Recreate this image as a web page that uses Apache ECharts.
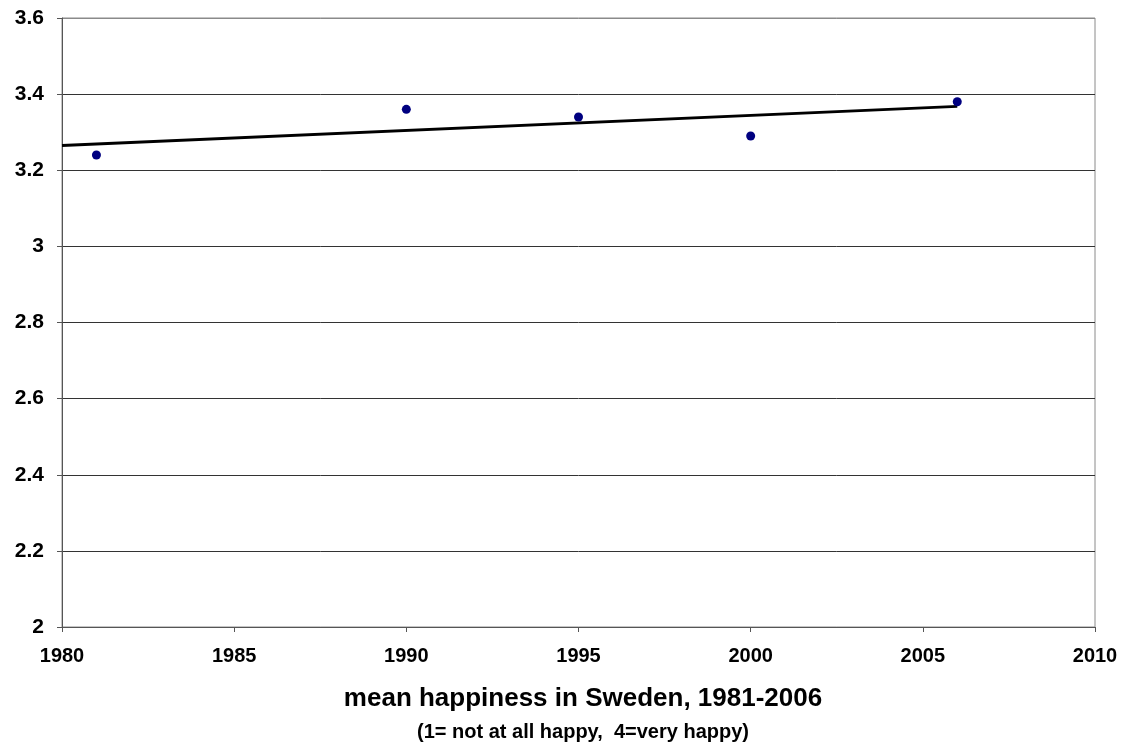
<!DOCTYPE html>
<html>
<head>
<meta charset="utf-8">
<script src="https://cdn.jsdelivr.net/npm/echarts@6/dist/echarts.min.js"></script>
<style>
html,body{margin:0;padding:0;background:#fff;}
#chart{width:1125px;height:742px;}
</style>
</head>
<body>
<div id="chart"></div>
<script>
var years = [1981, 1990, 1995, 2000, 2006];
var happiness = [3.24, 3.36, 3.34, 3.29, 3.38];
var trendYears = [1980, 2006];
var trendValues = [3.265, 3.368];
var titleText = 'mean happiness in Sweden, 1981-2006';
var subtitleText = '(1= not at all happy,  4=very happy)';

var pts = years.map(function (y, i) { return [y, happiness[i]]; });
var trend = trendYears.map(function (y, i) { return [y, trendValues[i]]; });

var font = '"Liberation Sans", Arial, sans-serif';
var chart = echarts.init(document.getElementById('chart'));
chart.setOption({
  animation: false,
  backgroundColor: '#fff',
  grid: { left: 62, right: 30, top: 18, bottom: 115, show: true, borderColor: '#8a8a8a', borderWidth: 1 },
  title: [
    { text: titleText, left: 578, top: 681, textAlign: 'center',
      textStyle: { fontFamily: font, fontWeight: 'bold', fontSize: 26, color: '#000' } },
    { text: subtitleText, left: 578, top: 717, textAlign: 'center',
      textStyle: { fontFamily: font, fontWeight: 'bold', fontSize: 20, color: '#000' } }
  ],
  xAxis: {
    type: 'value', min: 1980, max: 2010, interval: 5,
    axisLine: { show: true, lineStyle: { color: '#555', width: 1 } },
    axisTick: { show: true, inside: false, length: 5, lineStyle: { color: '#555' } },
    axisLabel: { fontFamily: font, fontWeight: 'bold', fontSize: 20, color: '#000', margin: 19,
      formatter: function (v) { return String(v); } },
    splitLine: { show: false }
  },
  yAxis: {
    type: 'value', min: 2, max: 3.6, interval: 0.2,
    axisLine: { show: true, lineStyle: { color: '#555', width: 1 } },
    axisTick: { show: true, inside: false, length: 5, lineStyle: { color: '#555' } },
    axisLabel: { fontFamily: font, fontWeight: 'bold', fontSize: 21, color: '#000', margin: 18,
      formatter: function (v) { return String(Math.round(v * 10) / 10); } },
    splitLine: { show: true, lineStyle: { color: ['#555', '#333', '#333', '#333', '#333', '#333', '#333', '#333', '#8a8a8a'], width: 1 } }
  },
  series: [
    {
      type: 'line', data: trend, symbol: 'none', silent: true,
      lineStyle: { color: '#000', width: 2.8 }, z: 2
    },
    {
      type: 'scatter', data: pts, symbol: 'circle', symbolSize: 9,
      itemStyle: { color: '#000080', opacity: 1 }, z: 3
    }
  ]
});
</script>
</body>
</html>
